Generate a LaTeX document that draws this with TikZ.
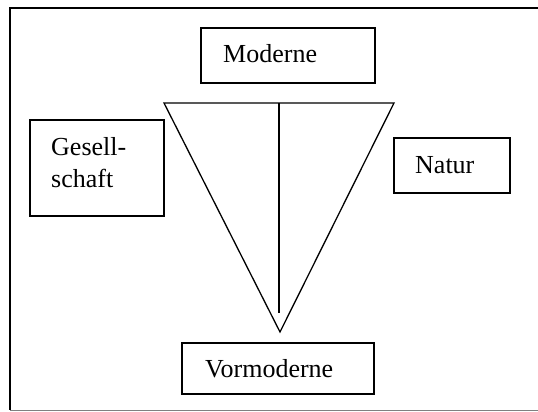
\documentclass[tikz,border=0pt]{standalone}
\usepackage{fontspec}
\setmainfont{Liberation Serif}
\begin{document}
\begin{tikzpicture}[x=1pt,y=-1pt,
  box/.style={draw,line width=1.3pt,inner sep=0pt},
  lbl/.style={font=\fontsize{26}{32}\selectfont,inner sep=0pt,anchor=base west},
  edge/.style={line width=1.3pt}]
\useasboundingbox (0,0) rectangle (538,412);
% outer frame (open on the right)
\draw[line width=1.8pt] (545,8) -- (10,8) -- (10,410);
\draw[line width=1.8pt,gray] (10,410.5) -- (545,410.5);
% boxes
\node[box,minimum width=174pt,minimum height=55pt] (mod) at (288,55.5) {};
\node[lbl] (modt) at (223,63) {Moderne};
\node[box,minimum width=134pt,minimum height=96pt] (ges) at (97,168) {};
\node[lbl] (gest1) at (51,155) {Gesell-};
\node[lbl] (gest2) at (51,187) {schaft};
\node[box,minimum width=116pt,minimum height=55pt] (nat) at (452,165.5) {};
\node[lbl] (natt) at (415,173) {Natur};
\node[box,minimum width=192pt,minimum height=51pt] (vor) at (278,368.5) {};
\node[lbl] (vort) at (205,377) {Vormoderne};
% funnel
\coordinate (tl) at (164,103);
\coordinate (tr) at (394,103);
\coordinate (ap) at (280,332);
\coordinate (mt) at (279,103);
\coordinate (mb) at (279,313);
\draw[edge,line join=miter] (tl) -- (tr) -- (ap) -- cycle;
\draw[edge] (mt) -- (mb);
\end{tikzpicture}
\end{document}
